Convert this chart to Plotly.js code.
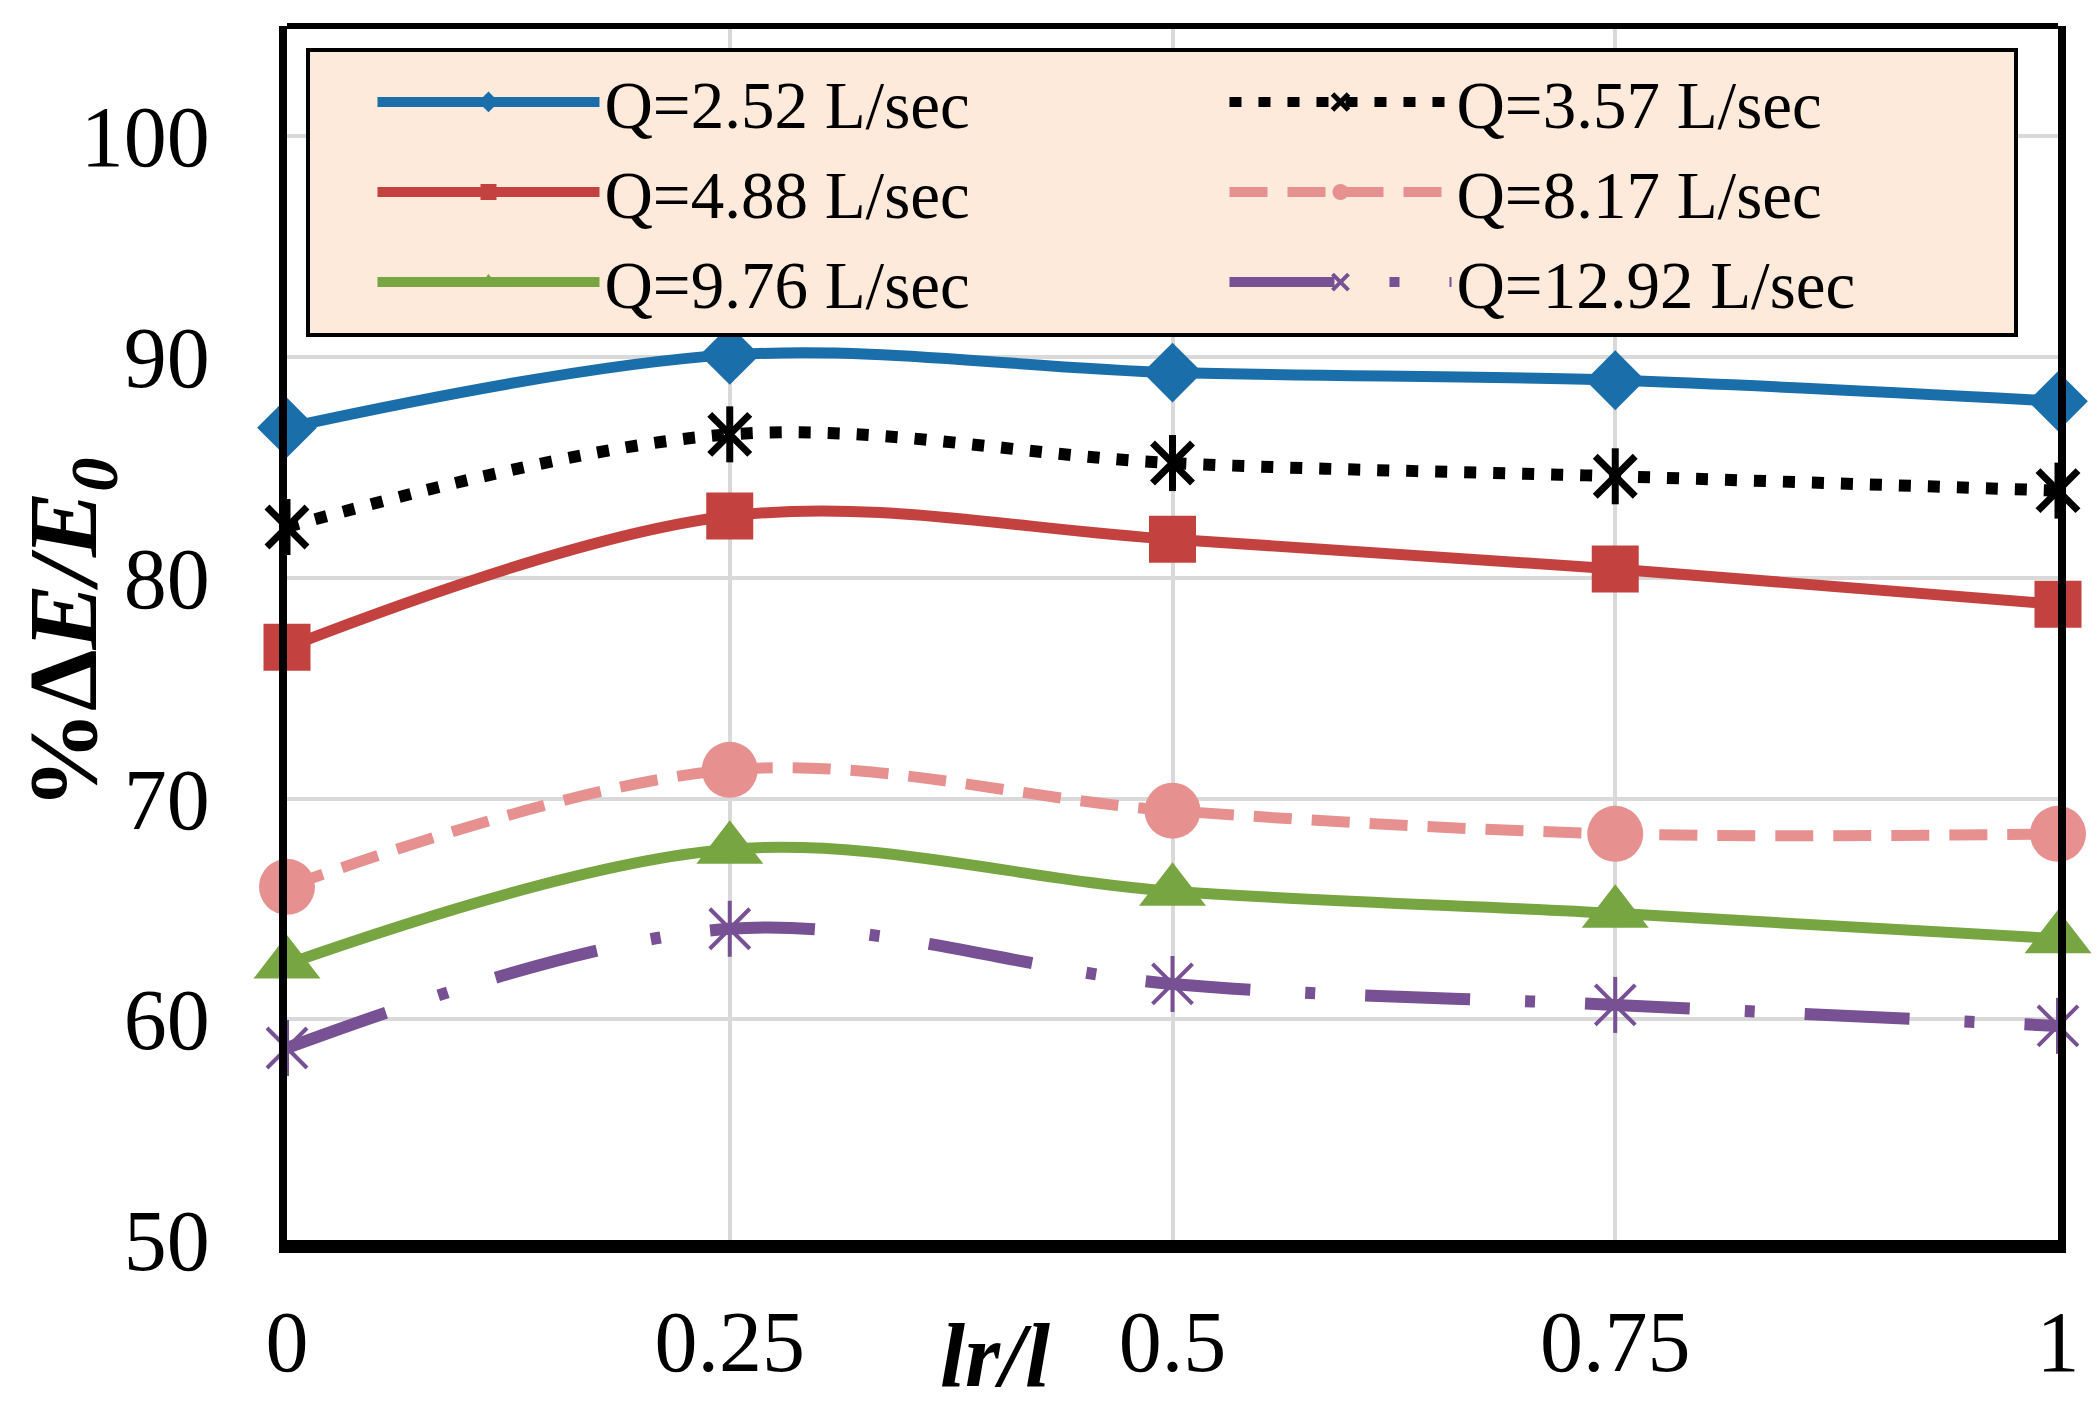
<!DOCTYPE html>
<html>
<head>
<meta charset="utf-8">
<script src="https://cdn.plot.ly/plotly-3.0.1.min.js"></script>
<style>
  html, body { margin: 0; padding: 0; background: #fff; }
  #chart { width: 2100px; height: 1420px; }
</style>
</head>
<body>
<div id="chart"></div>
<script>
// lr/l positions along the x axis
const ratio = [0, 0.25, 0.5, 0.75, 1];

// %dE/E0 for each discharge
const q252 = [86.8, 90.1, 89.3, 88.95, 88.0];
const q357 = [82.3, 86.5, 85.2, 84.6, 83.95];
const q488 = [76.85, 82.8, 81.75, 80.4, 78.8];
const q817 = [66.0, 71.3, 69.45, 68.4, 68.4];
const q976 = [62.5, 67.7, 65.8, 64.8, 63.65];
const q1292 = [58.7, 64.1, 61.6, 60.65, 59.7];

const seriesNames = ['Q=2.52 L/sec', 'Q=3.57 L/sec', 'Q=4.88 L/sec',
                     'Q=8.17 L/sec', 'Q=9.76 L/sec', 'Q=12.92 L/sec'];

const xTickVals = [0, 0.25, 0.5, 0.75, 1];
const xTickText = ['0', '0.25', '0.5', '0.75', '1'];
const yTickVals = [50, 60, 70, 80, 90, 100];

const FONT = 'Liberation Serif, Times New Roman, serif';

// one smoothed line + markers, like the Excel "smooth line" series
function series(name, y, color, dash, width, marker) {
    return {
        type: 'scatter',
        mode: 'lines+markers',
        name: name,
        legendgroup: name,
        x: ratio,
        y: y,
        cliponaxis: false,
        line: { color: color, width: width, dash: dash, shape: 'spline', smoothing: 1 },
        marker: Object.assign({ color: color, line: { width: 0 } }, marker)
    };
}

// Excel "star" marker = x plus a vertical stroke; the vertical stroke is an extra marker-only trace
function starStem(name, y, color, width) {
    return {
        type: 'scatter',
        mode: 'markers',
        name: name,
        legendgroup: name,
        showlegend: false,
        x: ratio,
        y: y,
        cliponaxis: false,
        marker: { symbol: 'line-ns-open', size: 40, color: color, line: { color: color, width: width } }
    };
}

const data = [
    series(seriesNames[0], q252, '#1a6fab', 'solid', 11, { symbol: 'diamond', size: 46 }),
    series(seriesNames[1], q357, '#000000', '12px,17px', 12,
        { symbol: 'x-thin-open', size: 40, line: { color: '#000', width: 7 } }),
    series(seriesNames[2], q488, '#c3423f', 'solid', 11, { symbol: 'square', size: 47 }),
    series(seriesNames[3], q817, '#e6918f', '38px,20px', 11, { symbol: 'circle', size: 56 }),
    series(seriesNames[4], q976, '#76a541', 'solid', 11, { symbol: 'triangle-up', size: 58 }),
    series(seriesNames[5], q1292, '#775193', '105px,55px,10px,50px', 12,
        { symbol: 'x-thin-open', size: 40, line: { color: '#775193', width: 4 } }),
    starStem(seriesNames[1], q357, '#000', 7),
    starStem(seriesNames[5], q1292, '#775193', 4)
];

const layout = {
    width: 2100,
    height: 1420,
    margin: { l: 287, r: 42, t: 26, b: 180 },
    paper_bgcolor: '#ffffff',
    plot_bgcolor: '#ffffff',
    font: { family: FONT, color: '#000', size: 86 },
    showlegend: true,
    legend: {
        orientation: 'h',
        x: 0.011, xanchor: 'left',
        y: 0.982, yanchor: 'top',
        bgcolor: '#fdeada',
        bordercolor: '#000',
        borderwidth: 4,
        font: { family: FONT, size: 67, color: '#000' },
        indentation: 62,
        itemwidth: 222,
        entrywidth: 553,
        traceorder: 'normal'
    },
    xaxis: {
        range: [0, 1],
        tickvals: xTickVals,
        ticktext: xTickText,
        showgrid: true,
        gridcolor: '#d9d9d9',
        gridwidth: 4,
        zeroline: false,
        showline: true,
        linecolor: '#000',
        linewidth: 13,
        ticks: '',
        ticklabelstandoff: 15,
        tickfont: { family: FONT, size: 86, color: '#000' },
        fixedrange: true
    },
    yaxis: {
        range: [50, 105],
        tickvals: yTickVals,
        showgrid: true,
        gridcolor: '#d9d9d9',
        gridwidth: 4,
        zeroline: false,
        showline: true,
        mirror: true,
        linecolor: '#000',
        linewidth: 8,
        ticks: '',
        ticklabelstandoff: 52,
        tickfont: { family: FONT, size: 86, color: '#000' },
        fixedrange: true
    },
    shapes: [
        // top frame of the plot area
        { type: 'line', xref: 'paper', yref: 'paper', x0: 0, x1: 1, y0: 1, y1: 1,
          line: { color: '#000', width: 6 } }
    ],
    annotations: [
        { text: '<b>%Δ<i>E/E<sub>0</sub></i></b>', xref: 'paper', yref: 'paper',
          x: -0.1225, y: 0.5, xanchor: 'center', yanchor: 'middle', textangle: -90,
          showarrow: false, font: { family: FONT, size: 98, color: '#000' } },
        { text: '<b><i>lr/l</i></b>', xref: 'paper', yref: 'paper',
          x: 0.4, y: -0.095, xanchor: 'center', yanchor: 'middle',
          showarrow: false, font: { family: FONT, size: 90, color: '#000' } }
    ]
};

Plotly.newPlot('chart', data, layout, { staticPlot: true });
</script>
</body>
</html>
